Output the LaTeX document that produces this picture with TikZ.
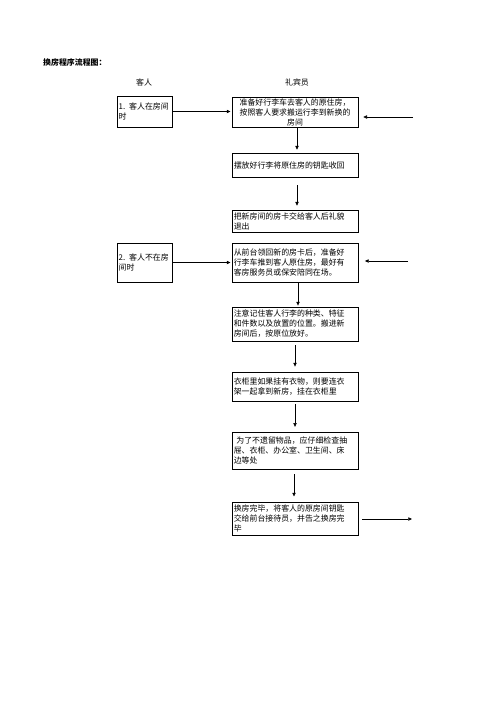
\documentclass[tikz,border=0pt]{standalone}
\usepackage{fontspec}
\setmainfont{Noto Sans CJK SC}
\usetikzlibrary{arrows.meta,calc}
\begin{document}
\begin{tikzpicture}[x=1.2pt,y=-1.2pt,
  box/.style={draw, line width=0.8pt, inner xsep=2pt, inner ysep=1pt,
    font=\fontsize{9.5}{12}\selectfont, align=left, text width=147pt},
  lbox/.style={box, text width=62pt},
  lbl/.style={font=\fontsize{9.5}{12}\selectfont, inner sep=0pt},
  arr/.style={-{Triangle[length=4.5pt,width=4pt]}, line width=0.7pt}]
\useasboundingbox (0,0) rectangle (496,702);

\node[lbl, anchor=west, font=\fontsize{9.5}{12}\selectfont\bfseries] (title) at (43,63) {换房程序流程图：};
\node[lbl] (hguest) at (144,82) {客人};
\node[lbl] (hbell) at (297,82) {礼宾员};

\node[lbox, minimum height=37pt] (b1) at (144.5,111.5) {1. 客人在房间\\时};
\node[lbox, minimum height=47pt] (b2) at (144.5,262.5) {2. 客人不在房\\间时};

\node[box, align=center, minimum height=36pt] (A) at (295,112) {准备好行李车去客人的原住房，\\按照客人要求搬运行李到新换的\\房间};
\node[box, minimum height=28.8pt] (B) at (295,165) {摆放好行李将原住房的钥匙收回};
\node[box, minimum height=26.4pt] (C) at (295,221) {把新房间的房卡交给客人后礼貌\\退出};
\node[box, minimum height=47pt] (D) at (295,262.5) {从前台领回新的房卡后，准备好\\行李车推到客人原住房，最好有\\客房服务员或保安陪同在场。};
\node[box, minimum height=41pt] (E) at (295,324) {注意记住客人行李的种类、特征\\和件数以及放置的位置。搬进新\\房间后，按原位放好。};
\node[box, minimum height=35pt] (F) at (295,386.5) {衣柜里如果挂有衣物，则要连衣\\架一起拿到新房，挂在衣柜里};
\node[box, minimum height=44pt] (G) at (295,450.5) {\ 为了不遗留物品，应仔细检查抽\\屉、衣柜、办公室、卫生间、床\\边等处};
\node[box, minimum height=40pt] (H) at (295,518.5) {换房完毕，将客人的原房间钥匙\\交给前台接待员，并告之换房完\\毕};

\coordinate (inA) at (413,117);
\coordinate (inD) at (408,261);
\coordinate (outH) at (412,519);

\draw[arr, shorten >=1.5pt] (b1.east) -- (b1.east -| A.west);
\draw[arr, shorten >=1.5pt] (b2.east) -- (b2.east -| D.west);
\draw[arr, shorten >=6pt] (inA) -- (inA -| A.east);
\draw[arr, shorten >=8pt] (inD) -- (inD -| D.east);
\draw[arr, shorten <=5pt] (H.east |- outH) -- (outH);

\draw[arr, shorten >=3.6pt] ([xshift=2.4pt]A.south) -- ([xshift=2.4pt]B.north);
\draw[arr, shorten <=9.6pt, shorten >=4.8pt] ([xshift=2.4pt]B.south) -- ([xshift=2.4pt]C.north);
\draw[arr, shorten >=1.2pt] ([xshift=3.6pt]D.south) -- ([xshift=3.6pt]E.north);
\draw[arr, shorten <=4.8pt, shorten >=6pt] (E.south) -- (F.north);
\draw[arr, shorten <=3.6pt, shorten >=6pt] (F.south) -- (G.north);
\draw[arr, shorten <=6pt, shorten >=6pt] ([xshift=-1.2pt]G.south) -- ([xshift=-1.2pt]H.north);
\end{tikzpicture}
\end{document}
